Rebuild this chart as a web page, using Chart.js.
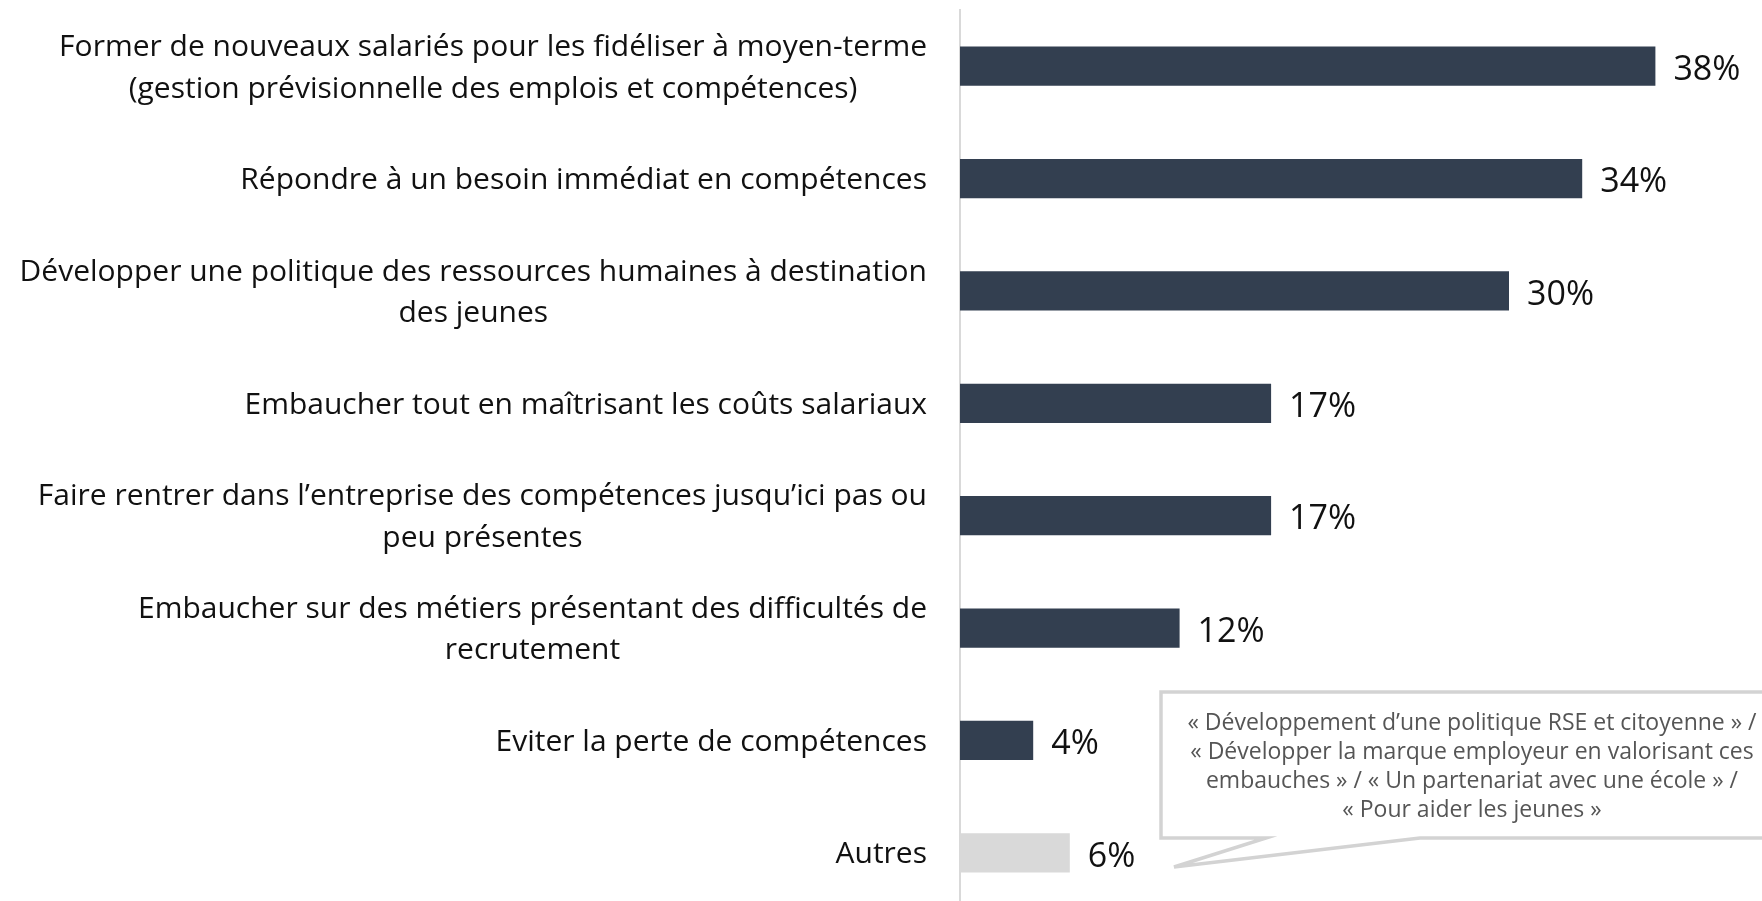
<!DOCTYPE html>
<html lang="fr">
<head>
<meta charset="utf-8">
<title>Motivations</title>
<script src="https://cdn.jsdelivr.net/npm/chart.js@4.4.1/dist/chart.umd.min.js"></script>
<style>
  html, body { margin: 0; padding: 0; background: #fff; overflow: hidden; }
  #wrap { width: 1762px; height: 901px; overflow: hidden; }
</style>
</head>
<body>
<div id="wrap">
  <canvas id="chart" width="1762" height="910"></canvas>
</div>
<script>
// Chart data
const categories = [
  ['Former de nouveaux salariés pour les fidéliser à moyen-terme', '(gestion prévisionnelle des emplois et compétences)'],
  ['Répondre à un besoin immédiat en compétences'],
  ['Développer une politique des ressources humaines à destination', 'des jeunes'],
  ['Embaucher tout en maîtrisant les coûts salariaux'],
  ['Faire rentrer dans l’entreprise des compétences jusqu’ici pas ou', 'peu présentes'],
  ['Embaucher sur des métiers présentant des difficultés de', 'recrutement'],
  ['Eviter la perte de compétences'],
  ['Autres']
];
const values = [38, 34, 30, 17, 17, 12, 4, 6];
const barColors = ['#333F50', '#333F50', '#333F50', '#333F50', '#333F50', '#333F50', '#333F50', '#D9D9D9'];
const calloutLines = [
  '« Développement d’une politique RSE et citoyenne » /',
  '« Développer la marque employeur en valorisant ces',
  'embauches » / « Un partenariat avec une école » /',
  '« Pour aider les jeunes »'
];

const FONT = '"Open Sans", "Noto Sans", sans-serif';

// Category labels: widest line right-aligned, other lines centred under it
const labelPlugin = {
  id: 'labels',
  afterDraw(chart) {
    const ctx = chart.ctx;
    const yScale = chart.scales.y;
    const xScale = chart.scales.x;
    ctx.save();
    ctx.fillStyle = '#111';
    ctx.textBaseline = 'middle';
    ctx.font = '30px ' + FONT;
    const lineH = 41.6;
    const right = 927;
    categories.forEach((lines, i) => {
      const y = yScale.getPixelForValue(i) + 2;
      const widest = Math.max(...lines.map(l => ctx.measureText(l).width));
      const cx = right - widest / 2;
      ctx.textAlign = 'center';
      lines.forEach((l, j) => {
        ctx.fillText(l, cx, y + (j - (lines.length - 1) / 2) * lineH);
      });
    });

    // Value labels
    ctx.font = '34px ' + FONT;
    ctx.textAlign = 'left';
    values.forEach((v, i) => {
      const x = xScale.getPixelForValue(v) + 18;
      const y = yScale.getPixelForValue(i) + 4;
      ctx.fillText(v + '%', x, y);
    });
    ctx.restore();
  }
};

// Speech-bubble note next to "Autres"
const calloutPlugin = {
  id: 'callout',
  afterDraw(chart) {
    const ctx = chart.ctx;
    ctx.save();
    ctx.beginPath();
    ctx.moveTo(1161, 692);
    ctx.lineTo(1790, 692);
    ctx.lineTo(1790, 838);
    ctx.lineTo(1420, 838);
    ctx.lineTo(1174, 867);
    ctx.lineTo(1266, 838);
    ctx.lineTo(1161, 838);
    ctx.closePath();
    ctx.fillStyle = '#fff';
    ctx.fill();
    ctx.strokeStyle = '#D3D3D3';
    ctx.lineWidth = 3.5;
    ctx.stroke();

    ctx.fillStyle = '#555';
    ctx.font = '23px ' + FONT;
    ctx.textAlign = 'center';
    ctx.textBaseline = 'middle';
    calloutLines.forEach((l, j) => {
      ctx.fillText(l, 1472, 723 + j * 29);
    });
    ctx.restore();
  }
};

new Chart(document.getElementById('chart'), {
  type: 'bar',
  data: {
    labels: categories,
    datasets: [{
      data: values,
      backgroundColor: barColors,
      borderWidth: 0,
      barPercentage: 0.35,
      categoryPercentage: 1
    }]
  },
  options: {
    indexAxis: 'y',
    responsive: false,
    animation: false,
    layout: { padding: { left: 952, right: 70, top: 10, bottom: 1 } },
    scales: {
      x: { display: false, min: 0, max: 40 },
      y: {
        grid: { display: false },
        ticks: { display: false },
        border: { display: true, color: '#D9D9D9', width: 2 }
      }
    },
    plugins: {
      legend: { display: false },
      tooltip: { enabled: false }
    }
  },
  plugins: [labelPlugin, calloutPlugin]
});
</script>
</body>
</html>
